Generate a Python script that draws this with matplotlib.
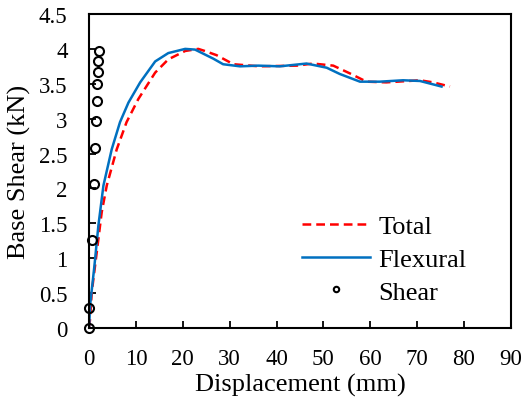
import matplotlib
matplotlib.use("Agg")
import matplotlib.pyplot as plt
from matplotlib.ticker import FuncFormatter

plt.rcParams['font.family'] = ['Liberation Serif', 'DejaVu Serif']

# Total (dashed red)
total_x = [0, 0.2, 0.57, 1.63, 2.7, 3.77, 5.9, 8.0, 10.5, 14.1, 16.9, 20.5, 23.3, 24.7,
           27.2, 30.8, 36.3, 44.3, 47.8, 52.1, 55.6, 59.2, 63.4, 70.6, 73.4, 77.0]
total_y = [0, 0.12, 0.51, 1.08, 1.66, 2.04, 2.56, 2.95, 3.28, 3.66, 3.85, 3.97, 4.0, 3.97,
           3.91, 3.78, 3.75, 3.76, 3.79, 3.76, 3.65, 3.53, 3.52, 3.55, 3.52, 3.46]

# Flexural (solid blue)
flex_x = [0, 0.21, 1.14, 1.99, 3.06, 4.83, 6.6, 8.4, 10.9, 14.1, 16.9, 20.5, 22.6, 24.4,
          26.5, 28.6, 32.2, 36.1, 40.7, 46.4, 50.7, 53.5, 57.8, 62.0, 67.0, 70.6, 75.2]
flex_y = [0, 0.32, 0.89, 1.47, 2.04, 2.56, 2.95, 3.23, 3.52, 3.82, 3.94, 4.0, 3.99, 3.93,
          3.86, 3.78, 3.75, 3.76, 3.75, 3.79, 3.73, 3.64, 3.53, 3.53, 3.55, 3.54, 3.46]

# Shear (open circles)
shear_x = [0, 0.0, 0.57, 1.07, 1.28, 1.42, 1.63, 1.78, 1.85, 1.92, 2.13]
shear_y = [0, 0.28, 1.26, 2.06, 2.58, 2.96, 3.25, 3.49, 3.67, 3.82, 3.97]

x_ticks = list(range(0, 91, 10))
y_ticks = [0, 0.5, 1, 1.5, 2, 2.5, 3, 3.5, 4, 4.5]

fig = plt.figure(figsize=(5.24, 4.06), dpi=100)
ax = fig.add_axes([0.170, 0.190, 0.805, 0.773])

ax.plot(total_x, total_y, color='#FF0000', lw=1.8, ls=(0, (3.5, 2)), label='Total')
ax.plot(flex_x, flex_y, color='#0070C0', lw=1.8, label='Flexural')
ax.plot(shear_x, shear_y, ls='none', marker='o', ms=6.5, mfc='none', mec='black', mew=1.5,
        label='Shear', clip_on=False, zorder=5)

ax.set_xlim(0, 90)
ax.set_ylim(0, 4.5)
ax.set_xticks(x_ticks)
ax.set_yticks(y_ticks)
ax.yaxis.set_major_formatter(FuncFormatter(lambda v, p: f"{v:g}"))
ax.tick_params(direction='in', length=5, width=1.3, labelsize=16.5, top=False, right=False,
               colors='black')
ax.tick_params(axis='y', pad=15.5)
ax.tick_params(axis='x', pad=14.5)
for s in ax.spines.values():
    s.set_linewidth(1.5)
    s.set_color('black')

ax.set_xlabel('Displacement (mm)', fontsize=19, labelpad=3)
ax.set_ylabel('Base Shear (kN)', fontsize=19, labelpad=6)

ax.legend(loc='upper left', bbox_to_anchor=(0.479, 0.394), frameon=False, fontsize=19,
          handlelength=2.6, handletextpad=0.3, labelspacing=0.35, borderaxespad=0,
          markerscale=0.6)

fig.savefig('out.png', dpi=100)
